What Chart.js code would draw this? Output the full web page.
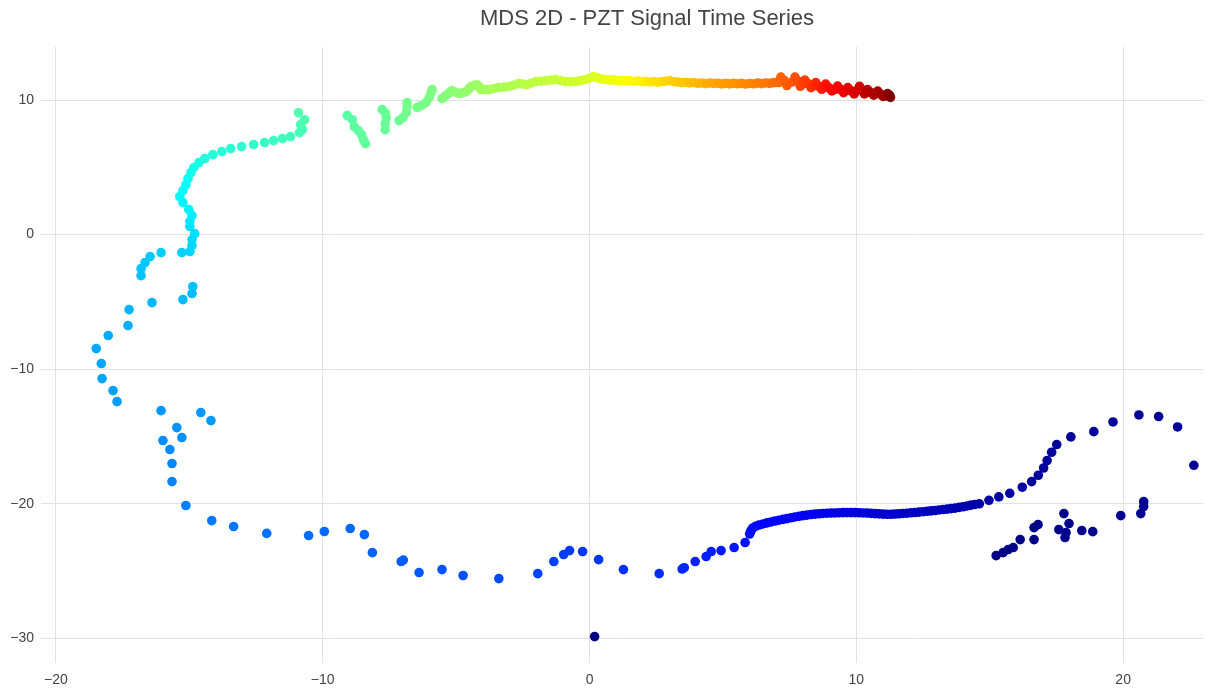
<!DOCTYPE html>
<html><head><meta charset="utf-8">
<script src="https://cdn.jsdelivr.net/npm/chart.js@4/dist/chart.umd.min.js"></script>
<style>html,body{margin:0;padding:0;background:#fff}</style>
</head><body>
<canvas id="c" width="1208" height="691" style="display:block;width:1208px;height:691px"></canvas>
<script>
const TITLE = 'MDS 2D - PZT Signal Time Series';
const xTicks = [-20, -10, 0, 10, 20];
const yTicks = [-30, -20, -10, 0, 10];

// Segment A: outlier, lower-right cluster, right arc (navy)
const segA_x = [0.19, 15.24, 15.50, 15.69, 15.88, 16.14, 16.66, 16.66, 16.81, 17.59, 17.78, 17.86, 17.97, 17.82, 18.45, 18.86, 19.91, 20.66, 20.77, 20.77, 22.65, 22.04, 21.33, 20.59, 19.62, 18.90, 18.04, 17.51, 17.32, 17.15, 17.02, 16.82, 16.57, 16.22, 15.75, 15.34, 14.97];
const segA_y = [-29.87, -23.85, -23.63, -23.40, -23.25, -22.66, -22.66, -21.77, -21.55, -21.92, -20.73, -22.14, -21.47, -22.51, -21.99, -22.07, -20.88, -20.73, -20.21, -19.84, -17.14, -14.29, -13.52, -13.40, -13.92, -14.64, -15.03, -15.60, -16.17, -16.79, -17.34, -17.88, -18.35, -18.77, -19.22, -19.49, -19.74];
const segA_t = [0.000, 0.002, 0.003, 0.004, 0.005, 0.006, 0.007, 0.008, 0.009, 0.010, 0.011, 0.012, 0.013, 0.014, 0.015, 0.016, 0.017, 0.018, 0.019, 0.020, 0.021, 0.022, 0.023, 0.024, 0.025, 0.026, 0.027, 0.028, 0.029, 0.030, 0.031, 0.032, 0.033, 0.034, 0.035, 0.036, 0.037];

// Segment B: dense lower band (blue)
const segB_x = [14.61, 14.45, 14.30, 14.15, 14.00, 13.85, 13.70, 13.55, 13.40, 13.25, 13.10, 12.95, 12.80, 12.65, 12.50, 12.35, 12.20, 12.05, 11.90, 11.75, 11.60, 11.45, 11.30, 11.15, 11.00, 10.85, 10.70, 10.55, 10.40, 10.25, 10.10, 9.95, 9.80, 9.65, 9.50, 9.35, 9.20, 9.05, 8.90, 8.75, 8.60, 8.45, 8.30, 8.15, 8.00, 7.85, 7.70, 7.55, 7.40, 7.25, 7.10, 6.95, 6.80, 6.65, 6.50, 6.35, 6.22, 6.12, 6.06, 6.03, 6.00];
const segB_y = [-20.00, -20.05, -20.10, -20.16, -20.22, -20.27, -20.32, -20.36, -20.40, -20.43, -20.46, -20.50, -20.53, -20.56, -20.59, -20.62, -20.65, -20.67, -20.70, -20.72, -20.74, -20.76, -20.78, -20.78, -20.77, -20.75, -20.73, -20.71, -20.69, -20.68, -20.67, -20.66, -20.66, -20.66, -20.66, -20.67, -20.68, -20.69, -20.70, -20.72, -20.74, -20.77, -20.80, -20.84, -20.88, -20.93, -20.98, -21.04, -21.10, -21.16, -21.22, -21.28, -21.35, -21.42, -21.50, -21.58, -21.68, -21.80, -21.95, -22.10, -22.25];
const segB_t = [0.040, 0.042, 0.043, 0.045, 0.047, 0.048, 0.050, 0.052, 0.053, 0.055, 0.057, 0.058, 0.060, 0.062, 0.063, 0.065, 0.067, 0.068, 0.070, 0.072, 0.073, 0.075, 0.077, 0.078, 0.080, 0.082, 0.083, 0.085, 0.087, 0.088, 0.090, 0.092, 0.093, 0.095, 0.097, 0.098, 0.100, 0.102, 0.103, 0.105, 0.107, 0.108, 0.110, 0.112, 0.113, 0.115, 0.117, 0.118, 0.120, 0.122, 0.123, 0.125, 0.127, 0.128, 0.130, 0.132, 0.133, 0.135, 0.137, 0.138, 0.140];

// Segment C: sparse bottom and left excursion
const segC_x = [5.83, 5.42, 4.93, 4.56, 4.37, 3.96, 3.55, 3.47, 2.61, 1.27, 0.34, -0.26, -0.75, -0.97, -1.34, -1.94, -3.40, -4.74, -5.53, -6.39, -7.06, -6.98, -8.14, -8.44, -8.97, -9.94, -10.53, -12.10, -13.34, -14.16, -15.13, -15.65, -15.65, -15.73, -15.99, -15.28, -15.47, -16.06, -14.57, -14.19, -17.71, -17.86, -18.27, -18.30, -18.49, -18.04, -17.30, -17.26, -16.40, -15.24, -14.90, -14.87, -16.81, -16.81, -16.66, -16.47, -16.06, -15.28, -14.98, -14.90, -14.90, -14.80];
const segC_y = [-22.88, -23.25, -23.48, -23.55, -23.92, -24.29, -24.75, -24.85, -25.19, -24.89, -24.15, -23.55, -23.48, -23.77, -24.29, -25.19, -25.56, -25.33, -24.89, -25.11, -24.29, -24.18, -23.63, -22.29, -21.84, -22.06, -22.36, -22.20, -21.69, -21.25, -20.13, -18.35, -17.01, -15.97, -15.30, -15.08, -14.34, -13.08, -13.22, -13.82, -12.41, -11.59, -10.70, -9.58, -8.47, -7.50, -6.76, -5.57, -5.05, -4.83, -4.38, -3.86, -3.05, -2.53, -2.08, -1.63, -1.34, -1.34, -1.26, -0.82, -0.37, 0.07];
const segC_t = [0.143, 0.146, 0.149, 0.152, 0.155, 0.158, 0.161, 0.163, 0.167, 0.172, 0.176, 0.179, 0.182, 0.185, 0.188, 0.192, 0.198, 0.203, 0.207, 0.211, 0.215, 0.216, 0.220, 0.223, 0.226, 0.229, 0.232, 0.237, 0.241, 0.245, 0.250, 0.254, 0.257, 0.260, 0.263, 0.266, 0.268, 0.271, 0.274, 0.276, 0.279, 0.282, 0.285, 0.288, 0.291, 0.294, 0.297, 0.300, 0.303, 0.306, 0.309, 0.312, 0.315, 0.318, 0.321, 0.324, 0.327, 0.330, 0.333, 0.336, 0.339, 0.342];

// Segment D: cyan climb and upper-left arc
const segD_x = [-14.98, -14.98, -14.90, -15.02, -15.24, -15.36, -15.24, -15.13, -15.05, -14.94, -14.83, -14.64, -14.42, -14.12, -13.78, -13.45, -13.04, -12.59, -12.18, -11.84, -11.51, -11.21, -10.87, -10.76, -10.83, -10.68, -10.91];
const segD_y = [0.60, 0.97, 1.41, 1.86, 2.38, 2.82, 3.27, 3.71, 4.16, 4.61, 4.98, 5.35, 5.65, 5.94, 6.17, 6.39, 6.54, 6.69, 6.84, 6.98, 7.13, 7.28, 7.58, 7.80, 8.17, 8.54, 9.06];
const segD_t = [0.346, 0.351, 0.356, 0.361, 0.366, 0.371, 0.376, 0.381, 0.386, 0.391, 0.396, 0.401, 0.405, 0.409, 0.413, 0.417, 0.421, 0.425, 0.429, 0.433, 0.437, 0.440, 0.443, 0.446, 0.449, 0.452, 0.455];

// Segment E: green saw-tooth strokes
const segE_x = [-9.08, -8.89, -8.82, -8.67, -8.55, -8.48, -8.40, -7.77, -7.66, -7.62, -7.66, -7.66, -7.14, -6.99, -6.87, -6.84, -6.84, -6.46, -6.31, -6.13, -6.01, -5.94, -5.90];
const segE_y = [8.84, 8.54, 8.02, 7.73, 7.43, 7.06, 6.76, 9.29, 9.06, 8.69, 8.25, 7.80, 8.47, 8.69, 9.06, 9.51, 9.81, 9.44, 9.58, 9.81, 10.18, 10.55, 10.77];
const segE_t = [0.462, 0.464, 0.466, 0.467, 0.469, 0.470, 0.471, 0.474, 0.476, 0.477, 0.478, 0.479, 0.482, 0.484, 0.486, 0.488, 0.490, 0.491, 0.493, 0.494, 0.495, 0.497, 0.498];

// Segment F: yellow-green upper band
const segF_x = [-5.53, -5.45, -5.34, -5.25, -5.16, -5.02, -4.89, -4.75, -4.63, -4.52, -4.45, -4.30, -4.22, -4.12, -4.07, -3.92, -3.77, -3.60, -3.40, -3.20, -3.03, -2.85, -2.65, -2.50, -2.35, -2.20, -2.02, -1.83, -1.64, -1.45, -1.27, -1.10, -0.90, -0.70, -0.52, -0.33, -0.15, 0.00, 0.15];
const segF_y = [10.10, 10.22, 10.40, 10.55, 10.70, 10.58, 10.48, 10.55, 10.62, 10.82, 11.00, 11.10, 11.14, 10.95, 10.77, 10.78, 10.77, 10.85, 10.92, 10.96, 11.00, 11.10, 11.22, 11.18, 11.14, 11.25, 11.37, 11.40, 11.44, 11.48, 11.52, 11.45, 11.37, 11.37, 11.37, 11.45, 11.52, 11.62, 11.74];
const segF_t = [0.500, 0.502, 0.505, 0.507, 0.509, 0.512, 0.514, 0.516, 0.519, 0.521, 0.523, 0.526, 0.528, 0.530, 0.533, 0.535, 0.537, 0.540, 0.542, 0.544, 0.547, 0.549, 0.551, 0.554, 0.556, 0.558, 0.561, 0.563, 0.565, 0.568, 0.570, 0.572, 0.575, 0.577, 0.579, 0.582, 0.584, 0.587, 0.590];

// Segment G: yellow-orange upper band
const segG_x = [0.30, 0.45, 0.60, 0.75, 0.90, 1.05, 1.20, 1.35, 1.50, 1.65, 1.80, 1.95, 2.10, 2.25, 2.40, 2.55, 2.70, 2.85, 3.00, 3.15, 3.30, 3.45, 3.60, 3.75, 3.90, 4.05, 4.20, 4.35, 4.50, 4.65, 4.80, 4.95, 5.10, 5.25, 5.40, 5.55, 5.70, 5.85, 6.00, 6.15, 6.30, 6.45, 6.60, 6.75, 6.90, 7.00];
const segG_y = [11.66, 11.56, 11.52, 11.48, 11.50, 11.45, 11.47, 11.42, 11.44, 11.38, 11.43, 11.36, 11.39, 11.34, 11.38, 11.33, 11.37, 11.40, 11.44, 11.36, 11.34, 11.29, 11.32, 11.27, 11.30, 11.24, 11.27, 11.22, 11.26, 11.23, 11.25, 11.20, 11.24, 11.20, 11.24, 11.21, 11.24, 11.19, 11.23, 11.21, 11.26, 11.22, 11.27, 11.24, 11.29, 11.30];
const segG_t = [0.594, 0.598, 0.603, 0.607, 0.611, 0.616, 0.620, 0.624, 0.628, 0.632, 0.636, 0.640, 0.644, 0.648, 0.652, 0.656, 0.660, 0.664, 0.668, 0.672, 0.676, 0.680, 0.684, 0.688, 0.692, 0.696, 0.700, 0.704, 0.708, 0.712, 0.716, 0.719, 0.723, 0.727, 0.730, 0.734, 0.737, 0.741, 0.744, 0.748, 0.751, 0.755, 0.758, 0.762, 0.765, 0.768];

// Segment H: red scalloped end
const segH_x = [7.10, 7.17, 7.30, 7.40, 7.60, 7.70, 7.82, 7.90, 8.00, 8.07, 8.20, 8.30, 8.40, 8.48, 8.60, 8.70, 8.80, 8.85, 8.98, 9.08, 9.22, 9.30, 9.42, 9.52, 9.60, 9.68, 9.80, 9.92, 10.05, 10.12, 10.22, 10.30, 10.38, 10.42, 10.55, 10.65, 10.72, 10.80, 10.90, 11.00, 11.10, 11.17, 11.25, 11.28];
const segH_y = [11.30, 11.70, 11.45, 11.08, 11.35, 11.70, 11.40, 11.02, 11.20, 11.48, 11.20, 10.92, 11.05, 11.30, 11.00, 10.80, 10.95, 11.18, 10.90, 10.68, 10.80, 11.04, 10.78, 10.55, 10.70, 10.92, 10.68, 10.45, 10.75, 11.02, 10.70, 10.45, 10.55, 10.78, 10.55, 10.36, 10.45, 10.66, 10.45, 10.27, 10.30, 10.48, 10.35, 10.20];
const segH_t = [0.772, 0.777, 0.782, 0.787, 0.792, 0.797, 0.802, 0.807, 0.812, 0.817, 0.822, 0.828, 0.833, 0.838, 0.843, 0.848, 0.853, 0.858, 0.864, 0.869, 0.874, 0.879, 0.884, 0.889, 0.894, 0.900, 0.905, 0.910, 0.915, 0.920, 0.925, 0.930, 0.936, 0.941, 0.946, 0.951, 0.956, 0.961, 0.966, 0.972, 0.977, 0.983, 0.990, 1.000];

const allX = [].concat(segA_x, segB_x, segC_x, segD_x, segE_x, segF_x, segG_x, segH_x);
const allY = [].concat(segA_y, segB_y, segC_y, segD_y, segE_y, segF_y, segG_y, segH_y);
const allT = [].concat(segA_t, segB_t, segC_t, segD_t, segE_t, segF_t, segG_t, segH_t);
if (allX.length !== allY.length || allX.length !== allT.length) console.error('length mismatch', allX.length, allY.length, allT.length);

function clamp01(v) { return Math.max(0, Math.min(1, v)); }
function jet(t) {
  const r = clamp01(1.5 - Math.abs(4 * t - 3));
  const g = clamp01(1.5 - Math.abs(4 * t - 2));
  const b = clamp01(1.5 - Math.abs(4 * t - 1));
  return 'rgb(' + Math.round(r * 255) + ',' + Math.round(g * 255) + ',' + Math.round(b * 255) + ')';
}
const fmt = v => (v < 0 ? '\u2212' + Math.abs(v) : String(v));
const FONT = '"Liberation Sans", Arial, sans-serif';

const titlePlugin = {
  id: 'customTitle',
  afterDraw(chart) {
    const c = chart.ctx;
    c.save();
    c.font = '22px ' + FONT;
    c.fillStyle = '#444';
    c.textAlign = 'center';
    c.textBaseline = 'alphabetic';
    c.fillText(TITLE, 647, 25);
    c.restore();
  }
};

const n = Math.min(allX.length, allY.length);
const pts = [];
for (let i = 0; i < n; i++) pts.push({ x: allX[i], y: allY[i] });

new Chart(document.getElementById('c'), {
  type: 'scatter',
  data: {
    datasets: [{
      data: pts,
      pointRadius: 4.8,
      pointHoverRadius: 4.8,
      pointBackgroundColor: allT.map(jet),
      pointBorderWidth: 0,
      borderColor: 'rgba(0,0,0,0)'
    }]
  },
  options: {
    responsive: false,
    animation: false,
    devicePixelRatio: 1,
    events: [],
    layout: { padding: { top: 47, right: 1, left: 0, bottom: 0 } },
    plugins: { legend: { display: false }, title: { display: false }, tooltip: { enabled: false } },
    scales: {
      x: {
        type: 'linear', min: -20.56, max: 23.0,
        afterBuildTicks: s => { s.ticks = xTicks.map(v => ({ value: v })); },
        afterFit: s => { s.height = 28; },
        border: { display: false },
        grid: { color: '#e2e2e2', lineWidth: 1, drawTicks: false },
        ticks: { padding: 9, color: '#444', font: { family: FONT, size: 14 }, callback: v => fmt(v), maxRotation: 0 }
      },
      y: {
        type: 'linear', min: -31.83, max: 13.94,
        afterBuildTicks: s => { s.ticks = yTicks.map(v => ({ value: v })); },
        afterFit: s => { s.width = 41; },
        border: { display: false },
        grid: { color: '#e2e2e2', lineWidth: 1, drawTicks: false },
        ticks: { padding: 7, color: '#444', font: { family: FONT, size: 14 }, callback: v => fmt(v) }
      }
    }
  },
  plugins: [titlePlugin]
});
</script>
</body></html>
